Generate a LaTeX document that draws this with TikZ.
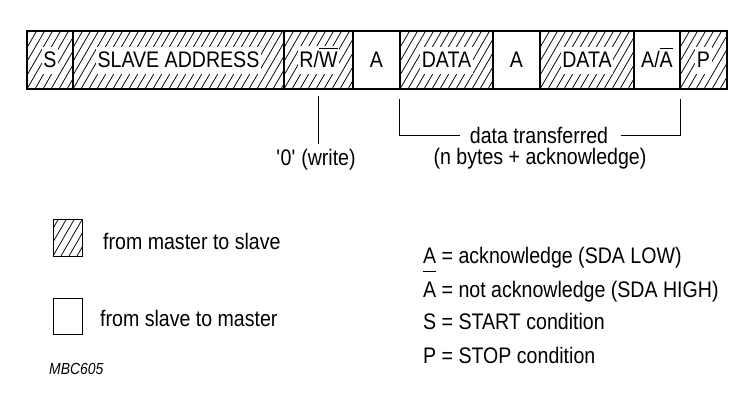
\documentclass[tikz,border=0pt]{standalone}
\usepackage{fontspec}
\setmainfont{Liberation Sans}[FakeStretch=0.87]
\newcommand{\ovl}[2][5pt]{\leavevmode\vbox{\hrule height 1pt\kern#1\hbox{#2}}}
\newcommand{\wbox}[1]{{\setlength{\fboxsep}{1.5pt}\colorbox{white}{\rule[-4.5pt]{0pt}{24pt}#1}}}

\begin{document}
\begin{tikzpicture}[x=1pt,y=-1pt,font=\fontsize{22.5}{27}\selectfont,
  hbox/.style={draw, line width=1.2pt, inner sep=0pt, minimum height=58pt,
    path picture={\foreach \i in {-6,...,30} \draw[line width=0.75pt] ([xshift=\i*8pt]path picture bounding box.south west) -- ++(40pt,69pt);}},
  pbox/.style={draw, line width=1.2pt, inner sep=0pt, minimum height=58pt},
  txt/.style={inner sep=0pt}]
  \useasboundingbox (0,0) rectangle (745,402);

  % frame
  \node[hbox, minimum width=46pt] (s) at (50,60) {\wbox{S}};
  \node[hbox, minimum width=211pt] (addr) at (178.5,60) {\wbox{SLAVE ADDRESS}};
  \node[hbox, minimum width=69pt] (rw) at (318.5,60) {\wbox{R/\ovl[4pt]{W}}};
  \node[pbox, minimum width=47pt] (a1) at (376.5,60) {\wbox{A}};
  \node[hbox, minimum width=93pt] (d1) at (446.5,60) {\wbox{DATA}};
  \node[pbox, minimum width=47pt] (a2) at (516.5,60) {\wbox{A}};
  \node[hbox, minimum width=94pt] (d2) at (587,60) {\wbox{DATA}};
  \node[pbox, minimum width=46pt] (aa) at (657,60) {\wbox{A/\ovl[3pt]{A}}};
  \node[hbox, minimum width=47pt] (p) at (703.5,60) {\wbox{P}};

  \node[txt] (wr) at (316,160) {\textquotesingle 0\textquotesingle\ (write)};
  \node[txt] (dt) at (539,135) {data transferred};
  \node[txt] (nb) at (540,159) {(n bytes + acknowledge)};

  \draw[line width=0.9pt] ([yshift=-6pt]rw.south) -- ([yshift=5pt]rw.south |- wr.north);
  \draw[line width=0.9pt] ([yshift=-9pt]d1.south west) |- ([xshift=-10pt]dt.west);
  \draw[line width=0.9pt] ([xshift=13pt]dt.east) -| ([yshift=-9pt]aa.south east);

  % legend
  \node[hbox, line width=1pt, minimum width=29pt, minimum height=37pt] (lm) at (67.5,237.5) {};
  \node[txt, anchor=base west] (lmt) at (103,249) {from master to slave};
  \node[pbox, line width=1pt, minimum width=29pt, minimum height=36pt] (ls) at (67.5,316) {};
  \node[txt, anchor=base west] (lst) at (100,326) {from slave to master};
  \node[txt, anchor=base west, font=\fontsize{16}{19}\selectfont\itshape] (mbc) at (49,374) {MBC605};

  \node[txt, anchor=base west] (k1) at (423,263) {A = acknowledge (SDA LOW)};
  \node[txt, anchor=base west] (k2) at (423,297) {\ovl[10pt]{A} = not acknowledge (SDA HIGH)};
  \node[txt, anchor=base west] (k3) at (423,329) {S = START condition};
  \node[txt, anchor=base west] (k4) at (423,363) {P = STOP condition};
\end{tikzpicture}
\end{document}
